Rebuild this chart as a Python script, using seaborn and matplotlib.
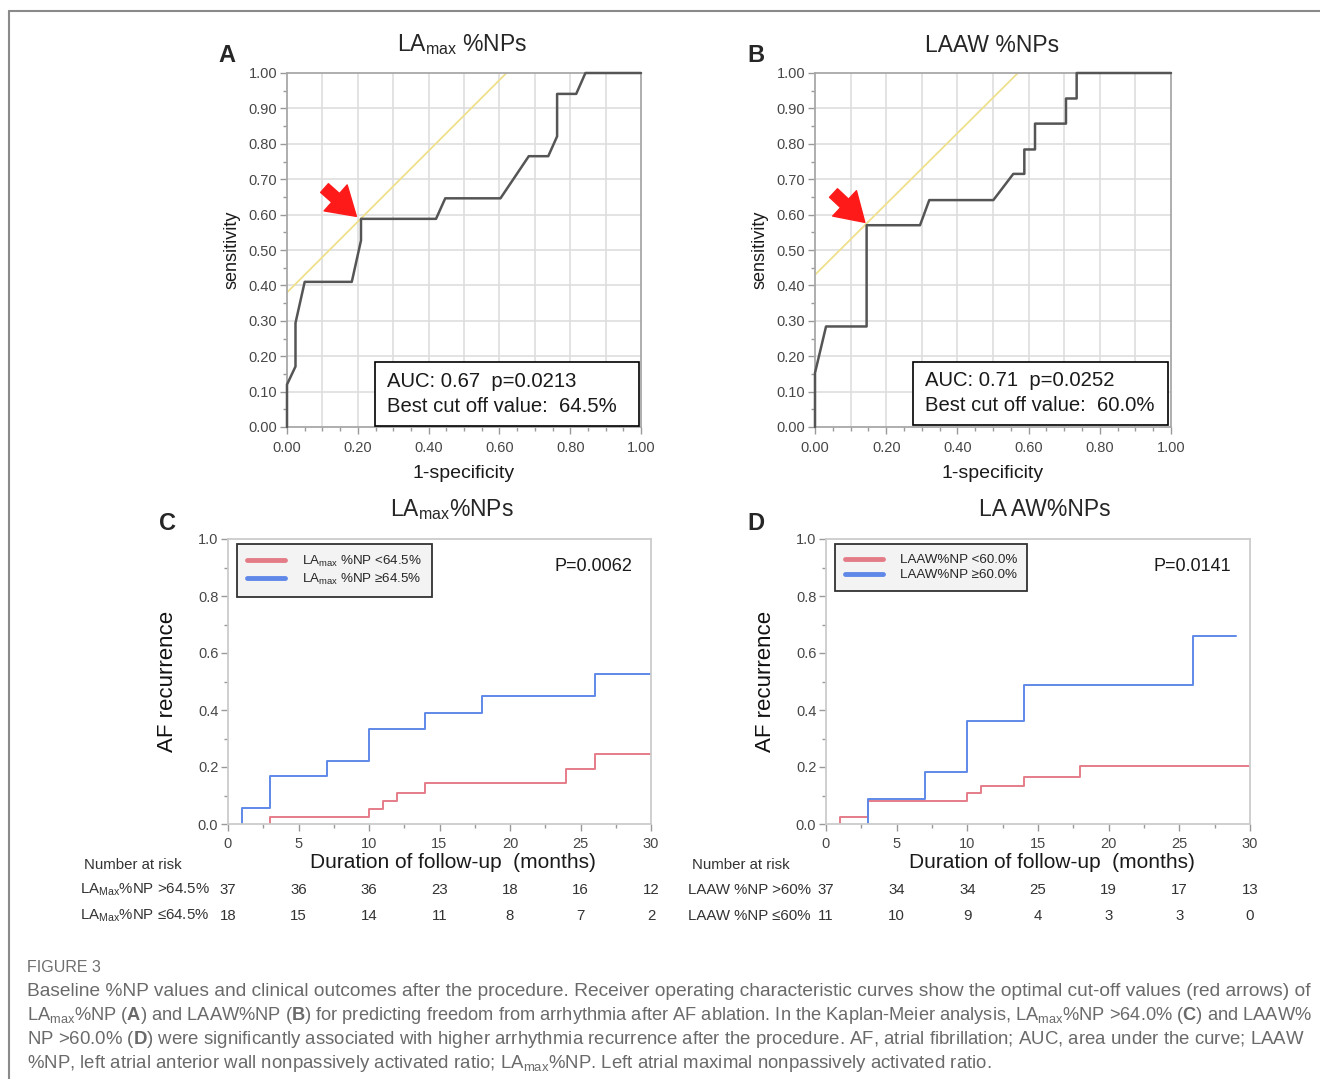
"""
ROC curves and Kaplan-Meier curves for LAmax %NP and LAAW %NP (Figure 3).
"""

import matplotlib.pyplot as plt
import numpy as np
import seaborn as sns
from matplotlib.lines import Line2D
from matplotlib.patches import Rectangle
from matplotlib.ticker import MultipleLocator
import matplotlib.transforms as mtransforms

# ROC curve, panel A (LAmax %NP)
roc_a_fpr = [0, 0, 0.024, 0.024, 0.05, 0.183, 0.209, 0.209, 0.421, 0.447, 0.603,
             0.683, 0.738, 0.763, 0.763, 0.817, 0.843, 1.0]
roc_a_tpr = [0, 0.12, 0.171, 0.294, 0.41, 0.41, 0.527, 0.588, 0.588, 0.646, 0.646,
             0.765, 0.765, 0.821, 0.941, 0.941, 1.0, 1.0]
roc_a_intercept = 0.38
roc_a_stats = ["AUC: 0.67  p=0.0213", "Best cut off value:  64.5%"]

# ROC curve, panel B (LAAW %NP)
roc_b_fpr = [0, 0, 0.031, 0.145, 0.145, 0.295, 0.321, 0.501, 0.557, 0.588, 0.588,
             0.618, 0.618, 0.705, 0.705, 0.735, 0.735, 1.0]
roc_b_tpr = [0, 0.153, 0.284, 0.284, 0.570, 0.570, 0.641, 0.641, 0.715, 0.715, 0.784,
             0.784, 0.857, 0.857, 0.928, 0.928, 1.0, 1.0]
roc_b_intercept = 0.43
roc_b_stats = ["AUC: 0.71  p=0.0252", "Best cut off value:  60.0%"]

# Kaplan-Meier (cumulative AF recurrence), panel C
km_c_low_t = [3, 3, 10, 11, 12, 14, 24, 26, 30]
km_c_low_v = [0, 0.026, 0.054, 0.082, 0.108, 0.143, 0.194, 0.246, 0.246]
km_c_high_t = [1, 1, 3, 7, 10, 14, 18, 26, 30]
km_c_high_v = [0, 0.055, 0.167, 0.221, 0.333, 0.389, 0.450, 0.527, 0.527]
km_c_p = "P=0.0062"

# Kaplan-Meier, panel D
km_d_low_t = [1, 1, 3, 10, 11, 14, 18, 30]
km_d_low_v = [0, 0.026, 0.081, 0.108, 0.135, 0.166, 0.204, 0.204]
km_d_high_t = [3, 3, 7, 10, 14, 26, 29]
km_d_high_v = [0, 0.089, 0.181, 0.363, 0.489, 0.66, 0.66]
km_d_p = "P=0.0141"

# number at risk
risk_months = [0, 5, 10, 15, 20, 25, 30]
risk_c_high = [37, 36, 36, 23, 18, 16, 12]
risk_c_low = [18, 15, 14, 11, 8, 7, 2]
risk_d_high = [37, 34, 34, 25, 19, 17, 13]
risk_d_low = [11, 10, 9, 4, 3, 3, 0]

W, H = 1320, 1079
RED = "#e47c88"
BLUE = "#5f88e8"
TICK_COLOR = "#474747"

sns.set_theme(style="white")
plt.rcParams["font.family"] = ["Liberation Sans", "DejaVu Sans"]
plt.rcParams["mathtext.fontset"] = "custom"
plt.rcParams["mathtext.rm"] = "Liberation Sans"
plt.rcParams["mathtext.bf"] = "Liberation Sans:bold"
plt.rcParams["mathtext.it"] = "Liberation Sans:italic"


def fx(px):
    return px / W


def fy(py):
    return 1 - py / H


def make_axes(left, top, right, bottom):
    return fig.add_axes([fx(left), fy(bottom), (right - left) / W, (bottom - top) / H])


def style_spines(ax, color):
    for sp in ax.spines.values():
        sp.set_color(color)
        sp.set_linewidth(1.3)
    ax.tick_params(which="both", direction="out", color="#999999", width=1,
                   labelcolor=TICK_COLOR, labelsize=10.5, left=True, bottom=True)
    ax.tick_params(which="major", length=5, pad=2)
    ax.tick_params(which="minor", length=3)


def roc_panel(ax, fpr, tpr, intercept, tip, tail, stats, box):
    ax.set_xlim(0, 1)
    ax.set_ylim(0, 1)
    # grid every 0.1
    for g in np.arange(0.1, 1.0, 0.1):
        ax.axvline(g, color="#dedede", lw=1.2, zorder=0)
        ax.axhline(g, color="#dedede", lw=1.2, zorder=0)
    ax.axline((0, intercept), slope=1, color="#efe08c", lw=1.3, zorder=1)
    sns.lineplot(x=fpr, y=tpr, ax=ax, estimator=None, sort=False,
                 color="#555555", lw=1.8, zorder=3, clip_on=False)
    ax.annotate("", xy=tip, xytext=tail,
                arrowprops=dict(arrowstyle="simple,head_length=1.0,head_width=1.25,tail_width=0.42",
                                fc="#ff1a1a", ec="#ff1a1a", shrinkA=0, shrinkB=0,
                                mutation_scale=20), zorder=5)
    x0, y0, x1, y1 = box
    ax.add_patch(Rectangle((x0, y0), x1 - x0, y1 - y0, transform=ax.transAxes,
                           fc="white", ec="black", lw=1.2, zorder=6))
    ax.text(x0 + 0.033, y0 + 0.125, stats[0], transform=ax.transAxes, fontsize=14.6,
            va="center", ha="left", color="#1a1a1a", zorder=7)
    ax.text(x0 + 0.033, y0 + 0.053, stats[1], transform=ax.transAxes, fontsize=14.6,
            va="center", ha="left", color="#1a1a1a", zorder=7)
    ax.set_xticks(np.arange(0, 1.01, 0.2))
    ax.set_xticklabels([f"{v:.2f}" for v in np.arange(0, 1.01, 0.2)])
    ax.set_yticks(np.arange(0, 1.01, 0.1))
    ax.set_yticklabels([f"{v:.2f}" for v in np.arange(0, 1.01, 0.1)])
    ax.xaxis.set_minor_locator(MultipleLocator(0.05))
    ax.yaxis.set_minor_locator(MultipleLocator(0.05))
    style_spines(ax, "#a8a8a8")
    ax.tick_params(axis="x", pad=5)
    ax.set_xlabel("1-specificity", fontsize=14, color="#1a1a1a", labelpad=7)
    ax.set_ylabel("sensitivity", fontsize=13, color="#1a1a1a", labelpad=6)


def km_panel(ax, low_t, low_v, high_t, high_v, labels, pval, rows, risk_left):
    ax.set_xlim(0, 30)
    ax.set_ylim(0, 1)
    sns.lineplot(x=low_t, y=low_v, ax=ax, estimator=None, sort=False, color=RED,
                 lw=1.4, drawstyle="steps-post", label=labels[0])
    sns.lineplot(x=high_t, y=high_v, ax=ax, estimator=None, sort=False, color=BLUE,
                 lw=1.4, drawstyle="steps-post", label=labels[1])
    leg = ax.legend(loc="upper left", bbox_to_anchor=(0.022, 0.983), borderaxespad=0,
                    fontsize=9.6, frameon=True, fancybox=False, facecolor="#f0f0f0",
                    edgecolor="black", handlelength=2.8, handletextpad=1.3,
                    borderpad=0.75, labelspacing=0.2)
    leg.get_frame().set_linewidth(1.3)
    for ln in leg.get_lines():
        ln.set_linewidth(3.5)
    ax.text(0.955, 0.905, pval, transform=ax.transAxes, ha="right", va="center",
            fontsize=13, color="#1a1a1a")
    ax.set_xticks(risk_months)
    ax.set_yticks(np.arange(0, 1.01, 0.2))
    ax.set_yticklabels([f"{v:.1f}" for v in np.arange(0, 1.01, 0.2)])
    ax.xaxis.set_minor_locator(MultipleLocator(2.5))
    ax.yaxis.set_minor_locator(MultipleLocator(0.1))
    style_spines(ax, "#cccccc")
    ax.tick_params(axis="x", pad=4)
    ax.set_ylabel("AF recurrence", fontsize=16, color="#111111", labelpad=14)
    ax.set_xlabel("Duration of follow-up  (months)", fontsize=15, color="#1a1a1a")
    ax.xaxis.set_label_coords(0.532, -0.1)

    # number at risk table
    trans = mtransforms.blended_transform_factory(ax.transData, ax.transAxes)
    bottom_px = 824
    fig.text(fx(risk_left + 4), fy(865), "Number at risk", fontsize=10.8,
             color="#333333", va="center", ha="left")
    for (label, counts), ypx in zip(rows, [890, 916]):
        fig.text(fx(risk_left), fy(ypx), label, fontsize=10.8, color="#333333",
                 va="center", ha="left")
        for m, n in zip(risk_months, counts):
            ax.text(m, -(ypx - bottom_px) / (bottom_px - 539), str(n), transform=trans,
                    fontsize=10.8, color="#333333", ha="center", va="center")


fig = plt.figure(figsize=(W / 100, H / 100), dpi=100)

# outer frame
fig.add_artist(Line2D([fx(9), fx(9)], [fy(11), 0], color="#8a8a8a", lw=1.5,
                      transform=fig.transFigure))
fig.add_artist(Line2D([fx(9), 1], [fy(11), fy(11)], color="#8a8a8a", lw=1.5,
                      transform=fig.transFigure))

ax_a = make_axes(287, 73, 641, 427)
roc_panel(ax_a, roc_a_fpr, roc_a_tpr, roc_a_intercept, (0.196, 0.595), (0.106, 0.675),
          roc_a_stats, (0.249, 0.004, 0.994, 0.183))

ax_b = make_axes(815, 73, 1171, 427)
roc_panel(ax_b, roc_b_fpr, roc_b_tpr, roc_b_intercept, (0.140, 0.578), (0.052, 0.661),
          roc_b_stats, (0.276, 0.007, 0.991, 0.183))

ax_c = make_axes(228, 539, 651, 824)
km_panel(ax_c, km_c_low_t, km_c_low_v, km_c_high_t, km_c_high_v,
         ["LA$_{\\mathregular{max}}$ %NP <64.5%", "LA$_{\\mathregular{max}}$ %NP \u226564.5%"],
         km_c_p,
         [("LA$_{\\mathregular{Max}}$%NP >64.5%", risk_c_high),
          ("LA$_{\\mathregular{Max}}$%NP \u226464.5%", risk_c_low)], 80)

ax_d = make_axes(826, 539, 1250, 824)
km_panel(ax_d, km_d_low_t, km_d_low_v, km_d_high_t, km_d_high_v,
         ["LAAW%NP <60.0%", "LAAW%NP \u226560.0%"],
         km_d_p,
         [("LAAW %NP >60%", risk_d_high), ("LAAW %NP \u226460%", risk_d_low)], 688)

# titles and panel letters
fig.text(fx(462), fy(45), "LA$_{\\mathregular{max}}$ %NPs", fontsize=16.5, ha="center", va="center")
fig.text(fx(992), fy(45), "LAAW %NPs", fontsize=16.5, ha="center", va="center")
fig.text(fx(452), fy(510), "LA$_{\\mathregular{max}}$%NPs", fontsize=16.5, ha="center", va="center")
fig.text(fx(1045), fy(510), "LA AW%NPs", fontsize=16.5, ha="center", va="center")
for letter, (px, py) in {"A": (227, 55), "B": (756, 55), "C": (168, 524), "D": (756, 524)}.items():
    fig.text(fx(px), fy(py), letter, fontsize=17, fontweight="bold", ha="center", va="center")

# caption (justified lines fitted to the text block width)
fig.text(fx(27), fy(967), "FIGURE 3", fontsize=11.5, color="#6f6f6f", va="center", ha="left")
caption_lines = [
    "Baseline %NP values and clinical outcomes after the procedure. Receiver operating "
    "characteristic curves show the optimal cut-off values (red arrows) of",
    "LA$_{\\mathregular{max}}$%NP ($\\mathbf{A}$) and LAAW%NP ($\\mathbf{B}$) for predicting freedom "
    "from arrhythmia after AF ablation. In the Kaplan-Meier analysis, LA$_{\\mathregular{max}}$%NP "
    ">64.0% ($\\mathbf{C}$) and LAAW%",
    "NP >60.0% ($\\mathbf{D}$) were significantly associated with higher arrhythmia recurrence "
    "after the procedure. AF, atrial fibrillation; AUC, area under the curve; LAAW",
    "%NP, left atrial anterior wall nonpassively activated ratio; LA$_{\\mathregular{max}}$%NP. "
    "Left atrial maximal nonpassively activated ratio.",
]
renderer = fig.canvas.get_renderer()
block_width = 1308 - 27
base_fs = 13.6
fitted = []
for i, line in enumerate(caption_lines):
    t = fig.text(fx(27), fy(992 + 24 * i), line, fontsize=base_fs, color="#6a6a6a",
                 va="center", ha="left")
    if i < len(caption_lines) - 1:
        w = t.get_window_extent(renderer).width
        t.set_fontsize(base_fs * block_width / w)
        fitted.append(base_fs * block_width / w)
# last line uses the mean size of the fitted lines
t.set_fontsize(float(np.mean(fitted)))

fig.savefig("out.png", dpi=100)
